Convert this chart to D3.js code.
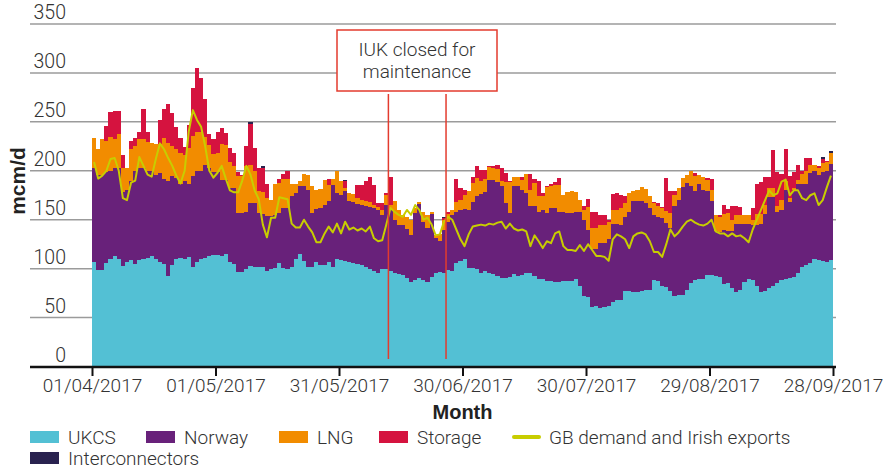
<!doctype html>
<html>

<head>
  <meta charset="utf-8">
  <title>GB gas supply and demand</title>
  <style>
    body { margin: 0; background: #fff; }
    svg text { font-family: Roboto, "Liberation Sans", sans-serif; fill: #333; }
    svg text.bold { font-family: "Liberation Sans", Arial, sans-serif; font-weight: 700; fill: #222; }
  </style>
</head>

<body>
  <div id="chart"></div>

  <script src="https://d3js.org/d3.v7.min.js"></script>

  <script>
    // ---- data (mcm/d, one value per gas day from 01/04/2017) ----
    var startDay = '2017-04-01';
    var tickLabels = ['01/04/2017', '01/05/2017', '31/05/2017', '30/06/2017', '30/07/2017', '29/08/2017', '28/09/2017'];
    var yTicks = [0, 50, 100, 150, 200, 250, 300, 350];
    var seriesNames = ['UKCS', 'Norway', 'LNG', 'Storage', 'Interconnectors'];
    var lineName = 'GB demand and Irish exports';
    var closedDays = ['2017-06-12', '2017-06-26'];

    var ukcs = [
      107, 99, 99, 106, 110, 113, 110, 103, 107, 109, 105, 109, 110, 111, 113, 110, 107, 105, 92, 104,
      110, 111, 110, 112, 102, 107, 110, 111, 113, 114, 114, 113, 115, 107, 105, 97, 97, 100, 103, 102,
      102, 102, 98, 100, 101, 106, 101, 100, 102, 110, 115, 108, 102, 102, 107, 104, 104, 107, 102, 110,
      109, 108, 107, 106, 105, 104, 102, 100, 98, 96, 100, 100, 98, 96, 95, 94, 90, 86, 88, 90,
      88, 86, 91, 96, 97, 96, 99, 98, 106, 108, 110, 101, 101, 100, 96, 98, 96, 95, 92, 90,
      90, 91, 95, 92, 94, 96, 96, 92, 89, 89, 87, 87, 86, 86, 87, 87, 87, 89, 82, 72,
      71, 61, 62, 60, 61, 62, 66, 68, 68, 77, 77, 76, 76, 77, 78, 78, 88, 87, 82, 81,
      77, 72, 73, 73, 78, 85, 88, 89, 89, 94, 94, 92, 91, 84, 85, 80, 76, 78, 86, 89,
      88, 82, 76, 77, 80, 82, 85, 88, 89, 90, 91, 96, 102, 104, 106, 110, 109, 108, 107, 109
    ];
    var norway = [
      96, 97, 97, 93, 90, 90, 93, 75, 73, 81, 95, 94, 93, 89, 87, 86, 91, 87, 98, 91,
      83, 75, 80, 75, 93, 93, 90, 95, 90, 85, 85, 78, 76, 75, 77, 60, 60, 58, 64, 65,
      55, 54, 56, 54, 54, 51, 61, 62, 72, 67, 69, 76, 78, 55, 54, 58, 61, 62, 83, 67,
      66, 71, 62, 62, 61, 61, 62, 63, 64, 64, 55, 65, 62, 54, 50, 51, 51, 48, 69, 76,
      60, 56, 65, 35, 31, 44, 49, 57, 52, 52, 51, 59, 67, 74, 80, 80, 95, 96, 97, 94,
      77, 66, 89, 92, 86, 81, 68, 72, 69, 71, 70, 75, 76, 72, 71, 70, 70, 69, 76, 78,
      69, 59, 58, 66, 65, 68, 80, 78, 77, 76, 81, 93, 93, 92, 89, 84, 67, 66, 70, 66,
      65, 92, 97, 110, 110, 99, 91, 98, 91, 85, 75, 46, 46, 56, 53, 58, 70, 68, 60, 57,
      57, 63, 70, 79, 93, 91, 73, 72, 91, 78, 89, 91, 84, 83, 92, 90, 87, 91, 93, 98
    ];
    var lng = [
      30, 26, 36, 31, 35, 29, 35, 25, 23, 32, 25, 29, 29, 29, 28, 31, 29, 41, 38, 30,
      29, 32, 26, 36, 41, 40, 40, 29, 23, 18, 19, 36, 35, 27, 23, 38, 38, 47, 39, 33,
      22, 22, 18, 16, 31, 31, 30, 30, 13, 9, 6, 13, 16, 27, 19, 19, 26, 16, 7, 23,
      15, 3, 8, 8, 6, 5, 5, 5, 3, 3, 5, 10, 5, 19, 15, 10, 12, 16, 5, 2,
      10, 13, 2, 3, 7, 10, 8, 5, 10, 10, 14, 19, 20, 19, 14, 14, 13, 12, 13, 6,
      22, 32, 10, 10, 11, 20, 16, 24, 16, 14, 26, 22, 23, 27, 17, 21, 22, 20, 12, 10,
      23, 22, 22, 19, 19, 18, 14, 14, 17, 14, 19, 10, 11, 14, 14, 12, 12, 11, 10, 12,
      15, 11, 12, 10, 8, 16, 16, 9, 14, 12, 11, 17, 16, 16, 19, 12, 9, 9, 9, 9,
      5, 11, 10, 9, 9, 9, 6, 10, 10, 4, 2, 4, 11, 13, 8, 6, 7, 9, 9, 11
    ];
    var storage = [
      0, 0, 0, 16, 25, 29, 23, 13, 0, 8, 8, 8, 31, 11, 0, 0, 25, 30, 40, 34,
      23, 15, 8, 24, 49, 65, 55, 38, 12, 15, 22, 17, 13, 14, 13, 4, 1, 20, 42, 23,
      24, 25, 14, 0, 0, 4, 5, 8, 0, 0, 0, 0, 0, 0, 0, 0, 0, 7, 0, 0,
      0, 8, 0, 0, 13, 15, 21, 26, 20, 4, 7, 2, 29, 0, 0, 0, 0, 0, 0, 0,
      0, 0, 0, 0, 0, 2, 2, 0, 24, 12, 5, 0, 6, 12, 11, 9, 1, 2, 4, 13,
      9, 1, 0, 0, 3, 0, 17, 4, 16, 3, 1, 2, 4, 8, 0, 0, 0, 0, 0, 4,
      8, 16, 16, 10, 10, 2, 16, 17, 13, 7, 0, 0, 0, 0, 0, 0, 1, 3, 1, 34,
      22, 4, 0, 0, 0, 0, 3, 0, 0, 2, 12, 0, 2, 9, 4, 14, 9, 8, 0, 0,
      12, 30, 33, 29, 12, 39, 35, 27, 32, 23, 17, 15, 3, 13, 7, 0, 2, 4, 1, 0
    ];
    var interconnectors = [
      0, 0, 0, 0, 0, 0, 0, 0, 0, 0, 0, 0, 0, 0, 0, 0, 0, 0, 0, 0,
      0, 0, 0, 0, 0, 0, 0, 0, 0, 0, 0, 0, 0, 0, 0, 0, 0, 0, 2, 0,
      0, 2, 0, 0, 0, 0, 0, 0, 0, 0, 0, 0, 0, 0, 0, 0, 0, 0, 0, 0,
      0, 1, 0, 0, 0, 0, 0, 0, 0, 0, 0, 0, 0, 0, 0, 0, 0, 0, 0, 0,
      0, 0, 0, 0, 0, 1, 0, 0, 0, 0, 0, 0, 0, 0, 0, 0, 0, 0, 0, 0,
      0, 0, 0, 0, 0, 0, 0, 0, 0, 0, 0, 0, 0, 0, 0, 0, 0, 0, 0, 0,
      0, 0, 0, 0, 0, 0, 0, 0, 0, 0, 0, 0, 0, 0, 0, 0, 0, 0, 0, 0,
      0, 0, 0, 0, 0, 0, 0, 0, 0, 0, 0, 0, 0, 0, 0, 0, 0, 0, 0, 0,
      0, 0, 0, 0, 0, 0, 0, 0, 0, 0, 0, 0, 0, 0, 0, 0, 0, 2, 0, 2
    ];
    var demand = [
      209, 192, 195, 200, 212, 213, 200, 172, 170, 188, 190, 214, 205, 196, 194, 212, 228, 222, 213, 205,
      195, 187, 200, 240, 262, 252, 245, 225, 200, 193, 198, 205, 192, 180, 178, 178, 190, 205, 196, 180,
      171, 145, 132, 152, 152, 173, 172, 171, 146, 142, 142, 150, 143, 137, 127, 127, 136, 143, 137, 146,
      136, 148, 140, 142, 139, 141, 138, 143, 131, 128, 129, 145, 162, 158, 155, 153, 160, 155, 165, 160,
      150, 152, 145, 134, 135, 148, 153, 150, 140, 130, 123, 135, 143, 144, 145, 144, 146, 145, 147, 148,
      141, 146, 141, 139, 140, 138, 123, 134, 128, 121, 128, 126, 136, 138, 123, 119, 119, 118, 124, 118,
      125, 119, 113, 113, 112, 108, 130, 135, 133, 130, 121, 133, 136, 137, 135, 128, 117, 117, 112, 125,
      140, 133, 137, 143, 148, 150, 147, 145, 144, 146, 150, 138, 136, 136, 133, 136, 133, 134, 131, 127,
      140, 150, 160, 170, 180, 175, 177, 189, 191, 175, 180, 180, 172, 170, 175, 177, 165, 170, 183, 195
    ];

    var colours = {
      UKCS: '#53c0d4',
      Norway: '#68217a',
      LNG: '#f28c00',
      Storage: '#d5133f',
      Interconnectors: '#29224f'
    };
    var lineColour = '#c8cd00';
    var noteColour = '#e33b2e';

    // ---- build rows ----
    var parseDay = d3.timeParse('%Y-%m-%d');
    var parseTick = d3.timeParse('%d/%m/%Y');
    var first = parseDay(startDay);
    var rows = ukcs.map(function(v, i) {
      return {
        date: d3.timeDay.offset(first, i),
        UKCS: v,
        Norway: norway[i],
        LNG: lng[i],
        Storage: storage[i],
        Interconnectors: interconnectors[i],
        demand: demand[i]
      };
    });
    var stacked = d3.stack().keys(seriesNames)(rows);

    // ---- scales ----
    var width = 893, height = 470;
    var x = d3.scaleTime()
      .domain([first, parseTick(tickLabels[tickLabels.length - 1])])
      .range([92, 833]);
    var y = d3.scaleLinear().domain([0, 350]).range([366.5, 24]);

    var svg = d3.select('#chart').append('svg')
      .attr('width', width)
      .attr('height', height);

    // gridlines + y labels (labels sit above the line)
    var grid = svg.append('g');
    grid.selectAll('line').data(yTicks.filter(function(t) { return t > 0; })).enter()
      .append('line')
      .attr('x1', 30).attr('x2', 836)
      .attr('y1', function(d) { return y(d); })
      .attr('y2', function(d) { return y(d); })
      .attr('stroke', '#9b9b9b')
      .attr('stroke-width', 1.5);
    grid.selectAll('text').data(yTicks).enter()
      .append('text')
      .attr('x', 66)
      .attr('y', function(d) { return y(d) - 5; })
      .attr('text-anchor', 'end')
      .style('font-size', '19.5px')
      .style('font-weight', 300)
      .text(function(d) { return d; });

    // stacked bars, snapped to whole pixels so no seams show between days
    function left(d) { return Math.round(x(d.data.date)); }
    function right(d) { return Math.round(x(d3.timeDay.offset(d.data.date, 1))); }
    var layers = svg.append('g')
      .attr('shape-rendering', 'crispEdges')
      .selectAll('g').data(stacked).enter()
      .append('g')
      .attr('fill', function(d) { return colours[d.key]; });
    layers.selectAll('rect').data(function(d) { return d; }).enter()
      .append('rect')
      .attr('x', left)
      .attr('width', function(d) { return right(d) - left(d); })
      .attr('y', function(d) { return Math.round(y(d[1])); })
      .attr('height', function(d) { return Math.max(0, Math.round(y(d[0])) - Math.round(y(d[1]))); });

    // demand line at the middle of each day
    var line = d3.line()
      .x(function(d) { return x(d3.timeHour.offset(d.date, 12)); })
      .y(function(d) { return y(d.demand); });
    svg.append('path')
      .datum(rows)
      .attr('d', line)
      .attr('fill', 'none')
      .attr('stroke', lineColour)
      .attr('stroke-width', 2)
      .attr('stroke-linejoin', 'round');

    // x axis
    var xAxis = d3.axisBottom(x)
      .tickValues(tickLabels.map(parseTick))
      .tickFormat(d3.timeFormat('%d/%m/%Y'))
      .tickSize(9)
      .tickPadding(3);
    var gx = svg.append('g')
      .attr('transform', 'translate(0,367)')
      .call(xAxis);
    gx.select('.domain').remove();
    gx.selectAll('.tick line').attr('stroke', '#111').attr('stroke-width', 2);
    gx.selectAll('.tick text')
      .style('font-family', 'Roboto, sans-serif')
      .style('font-size', '19px')
      .style('font-weight', 300)
      .attr('fill', '#333');
    svg.append('line')
      .attr('x1', 30).attr('x2', 836)
      .attr('y1', 367).attr('y2', 367)
      .attr('stroke', '#111')
      .attr('stroke-width', 2.5);

    // axis titles
    svg.append('text')
      .attr('class', 'bold')
      .attr('x', x(parseTick(tickLabels[3])))
      .attr('y', 419)
      .attr('text-anchor', 'middle')
      .style('font-size', '20px')
      .text('Month');
    svg.append('text')
      .attr('class', 'bold')
      .attr('transform', 'translate(25,181) rotate(-90)')
      .attr('text-anchor', 'middle')
      .style('font-size', '21px')
      .text('mcm/d');

    // IUK maintenance note
    var note = svg.append('g');
    note.selectAll('line').data(closedDays).enter()
      .append('line')
      .attr('x1', function(d) { return x(parseDay(d)); })
      .attr('x2', function(d) { return x(parseDay(d)); })
      .attr('y1', 94).attr('y2', 359)
      .attr('stroke', noteColour)
      .attr('stroke-width', 1.5);
    note.append('rect')
      .attr('x', 337).attr('y', 30)
      .attr('width', 160).attr('height', 61)
      .attr('fill', '#fff')
      .attr('stroke', noteColour)
      .attr('stroke-width', 1.5);
    note.append('text')
      .attr('x', 417).attr('y', 56)
      .attr('text-anchor', 'middle')
      .style('font-size', '19px')
      .style('font-weight', 300)
      .text('IUK closed for');
    note.append('text')
      .attr('x', 417).attr('y', 78)
      .attr('text-anchor', 'middle')
      .style('font-size', '19px')
      .style('font-weight', 300)
      .text('maintenance');

    // legend
    var legendItems = [
      { name: 'UKCS', x: 30, row: 0 },
      { name: 'Norway', x: 146, row: 0 },
      { name: 'LNG', x: 279, row: 0 },
      { name: 'Storage', x: 379, row: 0 },
      { name: lineName, x: 514, row: 0, line: true },
      { name: 'Interconnectors', x: 30, row: 1 }
    ];
    var lg = svg.append('g').selectAll('g').data(legendItems).enter()
      .append('g')
      .attr('transform', function(d) { return 'translate(' + d.x + ',' + (437 + d.row * 21) + ')'; });
    lg.filter(function(d) { return !d.line; })
      .append('rect')
      .attr('x', 0).attr('y', -6)
      .attr('width', 29).attr('height', 12)
      .attr('fill', function(d) { return colours[d.name]; });
    lg.filter(function(d) { return d.line; })
      .append('line')
      .attr('x1', 0).attr('x2', 25)
      .attr('stroke', lineColour)
      .attr('stroke-width', 4)
      .attr('stroke-linecap', 'round');
    lg.append('text')
      .attr('x', function(d) { return d.line ? 35 : 38; })
      .attr('y', 7)
      .style('font-size', '19px')
      .style('font-weight', 300)
      .text(function(d) { return d.name; });
  </script>

</body>

</html>
